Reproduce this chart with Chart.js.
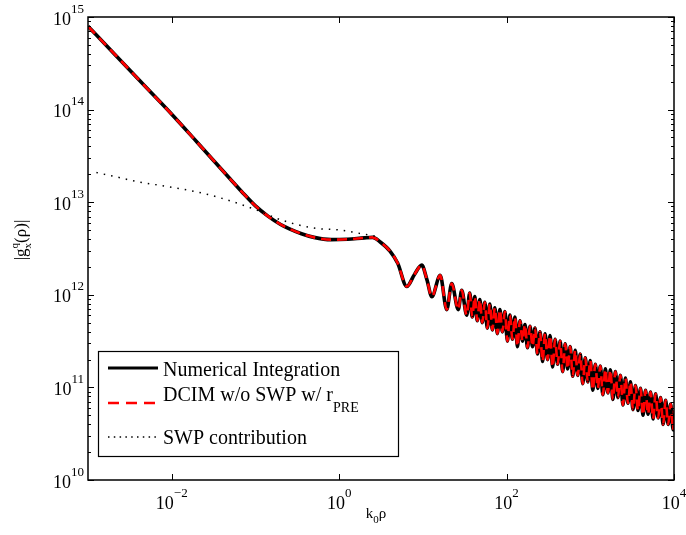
<!DOCTYPE html>
<html>
<head>
<meta charset="utf-8">
<style>
  html, body { margin: 0; padding: 0; background: #fff; }
  canvas { display: block; }
</style>
<script src="https://cdn.jsdelivr.net/npm/chart.js@4.4.0/dist/chart.umd.min.js"></script>
</head>
<body>
<canvas id="chart" width="686" height="535"></canvas>
<script>
// values (k0*rho, |g|)
const xNum = [0.001, 0.002, 0.005, 0.01, 0.02, 0.05, 0.0708, 0.1, 0.141, 0.2, 0.251, 0.355, 0.5, 0.8, 1.26, 2.0, 2.51, 3.09, 4.07, 5.01, 6.43, 7.94, 9.7, 11.2, 12.8, 16.1, 19.3, 22.1, 26.5, 29.1, 33.4,
  36.3, 38.9, 41.7, 44.7, 47.9, 51.3, 55.0, 58.9, 63.1, 67.6, 72.4, 77.6, 83.2, 89.1, 95.5, 102.3, 109.6, 117.5, 125.9, 134.9,
  144.5, 154.9, 166.0, 177.8, 190.5, 204.2, 218.8, 234.4, 251.2, 269.2, 288.4, 309.0, 331.1, 354.8, 380.2, 407.4, 436.5, 467.7, 501.2, 537.0,
  575.4, 616.6, 660.7, 707.9, 758.6, 812.8, 871.0, 933.3, 1000, 1072, 1148, 1230, 1318, 1413, 1514, 1622, 1738, 1862, 1995, 2138,
  2291, 2455, 2630, 2818, 3020, 3236, 3467, 3715, 3981, 4266, 4571, 4898, 5248, 5623, 6026, 6457, 6918, 7413, 7943, 8511, 9120, 9772, 10000];
const yNum = [7.94e14, 4.12e14, 1.72e14, 8.91e13, 4.47e13, 1.78e13, 1.26e13, 9.12e12, 7.08e12, 5.75e12, 5.19e12, 4.57e12, 4.17e12, 3.94e12, 3.98e12, 4.12e12, 4.17e12, 3.72e12, 2.95e12, 2.19e12, 1.23e12, 1.66e12, 2.09e12, 1.45e12, 9.55e11, 1.62e12, 6.92e11, 1.32e12, 6.92e11, 1.12e12, 6.03e11,
  1.047e12, 5.754e11, 9.550e11, 5.248e11, 8.913e11, 5.012e11, 8.318e11, 4.365e11, 7.943e11, 4.169e11, 7.244e11, 3.802e11, 6.918e11, 3.981e11, 6.607e11, 3.162e11, 6.026e11, 3.311e11, 5.754e11, 2.754e11,
  5.248e11, 3.162e11, 4.786e11, 2.692e11, 4.571e11, 2.754e11, 4.365e11, 2.291e11, 3.981e11, 1.905e11, 3.802e11, 1.995e11, 3.631e11, 1.660e11, 3.311e11, 1.778e11, 3.162e11, 1.479e11, 2.951e11, 1.585e11,
  2.754e11, 1.318e11, 2.512e11, 1.349e11, 2.291e11, 1.096e11, 2.089e11, 1.148e11, 1.950e11, 9.333e10, 1.778e11, 9.772e10, 1.698e11, 8.318e10, 1.585e11, 8.710e10, 1.549e11, 7.413e10, 1.479e11, 7.762e10,
  1.349e11, 6.457e10, 1.259e11, 6.761e10, 1.148e11, 5.754e10, 1.047e11, 5.623e10, 9.772e10, 5.012e10, 9.333e10, 5.129e10, 8.913e10, 4.571e10, 8.511e10, 4.677e10, 7.762e10, 3.981e10, 7.244e10, 3.981e10, 6.607e10, 3.467e10, 5.623e10];
// DCIM curve sits on top of the numerical one
const xDcim = xNum;
const yDcim = yNum;
const xSwp = [0.00126, 0.002, 0.004, 0.01, 0.02, 0.04, 0.1, 0.2, 0.5, 1.0, 1.6, 2.8];
const ySwp = [2.09e13, 1.91e13, 1.66e13, 1.45e13, 1.29e13, 1.10e13, 8.32e12, 6.46e12, 5.25e12, 5.01e12, 4.68e12, 4.27e12];

const xTicks = [1e-2, 1e0, 1e2, 1e4];
const xTickExp = ['\u22122', '0', '2', '4'];
const yTicks = [1e10, 1e11, 1e12, 1e13, 1e14, 1e15];
const yTickExp = ['10', '11', '12', '13', '14', '15'];
const seriesNames = ['Numerical Integration', 'DCIM w/o SWP w/ r', 'SWP contribution'];

const SERIF = '"Liberation Serif", "Times New Roman", serif';

function pts(xs, ys) {
  return xs.map((x, i) => ({ x: x, y: ys[i] }));
}

// draws "10" with a raised exponent, left edge at x
function drawPow(ctx, x, y, exp) {
  ctx.font = '18px ' + SERIF;
  const w1 = ctx.measureText('10').width;
  ctx.fillText('10', x, y);
  ctx.font = '13px ' + SERIF;
  ctx.fillText(exp, x + w1, y - 12);
}
function powWidth(ctx, exp) {
  ctx.font = '18px ' + SERIF;
  const w1 = ctx.measureText('10').width;
  ctx.font = '13px ' + SERIF;
  return w1 + ctx.measureText(exp).width;
}

const decor = {
  id: 'decor',
  afterDatasetsDraw(chart) {
    const ctx = chart.ctx;
    const a = chart.chartArea;
    const xs = chart.scales.x, ys = chart.scales.y;
    ctx.save();
    ctx.strokeStyle = '#000';
    ctx.fillStyle = '#000';
    ctx.textAlign = 'left';
    ctx.textBaseline = 'alphabetic';

    // ticks, pointing inward on all four sides
    ctx.lineWidth = 1;
    ctx.beginPath();
    xTicks.forEach(v => {
      const px = Math.round(xs.getPixelForValue(v)) + 0.5;
      ctx.moveTo(px, a.bottom); ctx.lineTo(px, a.bottom - 6);
      ctx.moveTo(px, a.top); ctx.lineTo(px, a.top + 6);
    });
    yTicks.forEach((v, i) => {
      const py = Math.round(ys.getPixelForValue(v)) + 0.5;
      ctx.moveTo(a.left, py); ctx.lineTo(a.left + 6, py);
      ctx.moveTo(a.right, py); ctx.lineTo(a.right - 6, py);
      if (i < yTicks.length - 1) {
        for (let m = 2; m <= 9; m++) {
          const pm = Math.round(ys.getPixelForValue(v * m)) + 0.5;
          ctx.moveTo(a.left, pm); ctx.lineTo(a.left + 3, pm);
          ctx.moveTo(a.right, pm); ctx.lineTo(a.right - 3, pm);
        }
      }
    });
    ctx.stroke();

    // frame
    ctx.lineWidth = 1.5;
    ctx.strokeRect(a.left, a.top, a.right - a.left, a.bottom - a.top);

    // tick labels
    xTicks.forEach((v, i) => {
      const px = xs.getPixelForValue(v);
      const w = powWidth(ctx, xTickExp[i]);
      drawPow(ctx, px - w / 2, a.bottom + 29, xTickExp[i]);
    });
    yTicks.forEach((v, i) => {
      const py = ys.getPixelForValue(v);
      const w = powWidth(ctx, yTickExp[i]);
      drawPow(ctx, 84 - w, py + 7.5, yTickExp[i]);
    });

    // x title: k0 rho
    ctx.font = '15px ' + SERIF;
    const wk = ctx.measureText('k').width;
    const wr = ctx.measureText('\u03c1').width;
    ctx.font = '11px ' + SERIF;
    const w0 = ctx.measureText('0').width;
    let tx = 376 - (wk + w0 + wr) / 2;
    ctx.font = '15px ' + SERIF;
    ctx.fillText('k', tx, 518);
    ctx.font = '11px ' + SERIF;
    ctx.fillText('0', tx + wk, 523);
    ctx.font = '15px ' + SERIF;
    ctx.fillText('\u03c1', tx + wk + w0, 518);

    // y title: |g_x^q(rho)|
    ctx.save();
    ctx.translate(26, 240);
    ctx.rotate(-Math.PI / 2);
    ctx.font = '17px ' + SERIF;
    const wa = ctx.measureText('|g').width;
    const wb = ctx.measureText('(\u03c1)|').width;
    ctx.font = '11px ' + SERIF;
    const ws = Math.max(ctx.measureText('x').width, ctx.measureText('q').width);
    let ty = -(wa + ws + wb) / 2;
    ctx.font = '17px ' + SERIF;
    ctx.fillText('|g', ty, 0);
    ctx.font = '11px ' + SERIF;
    ctx.fillText('q', ty + wa, -8);
    ctx.fillText('x', ty + wa, 5);
    ctx.font = '17px ' + SERIF;
    ctx.fillText('(\u03c1)|', ty + wa + ws, 0);
    ctx.restore();

    // legend box
    ctx.fillStyle = '#fff';
    ctx.fillRect(98, 351, 300, 105);
    ctx.lineWidth = 1.2;
    ctx.strokeRect(98.5, 351.5, 300, 105);
    ctx.fillStyle = '#000';

    ctx.lineWidth = 3;
    ctx.beginPath(); ctx.moveTo(108, 368); ctx.lineTo(158, 368); ctx.stroke();
    ctx.strokeStyle = '#ff0000';
    ctx.lineWidth = 2.6;
    ctx.setLineDash([11, 7]);
    ctx.beginPath(); ctx.moveTo(108, 403); ctx.lineTo(158, 403); ctx.stroke();
    ctx.strokeStyle = '#000';
    ctx.lineWidth = 1.5;
    ctx.setLineDash([1.5, 4.3]);
    ctx.beginPath(); ctx.moveTo(108, 437); ctx.lineTo(158, 437); ctx.stroke();
    ctx.setLineDash([]);

    ctx.font = '20px ' + SERIF;
    ctx.fillText(seriesNames[0], 163, 376);
    ctx.fillText(seriesNames[1], 163, 401);
    const wd = ctx.measureText(seriesNames[1]).width;
    ctx.font = '14px ' + SERIF;
    ctx.fillText('PRE', 163 + wd, 412);
    ctx.font = '20px ' + SERIF;
    ctx.fillText(seriesNames[2], 163, 444);

    ctx.restore();
  }
};

new Chart(document.getElementById('chart'), {
  type: 'line',
  data: {
    datasets: [{
      label: seriesNames[0],
      data: pts(xNum, yNum),
      borderColor: '#000000',
      borderWidth: 3.6,
      borderJoinStyle: 'round',
      order: 3
    }, {
      label: seriesNames[1],
      data: pts(xDcim, yDcim),
      borderColor: '#ff0000',
      borderWidth: 2.6,
      borderDash: [10, 6],
      order: 2
    }, {
      label: seriesNames[2],
      data: pts(xSwp, ySwp),
      borderColor: '#000000',
      borderWidth: 1.5,
      borderDash: [1.5, 6],
      order: 1
    }]
  },
  options: {
    responsive: false,
    animation: false,
    devicePixelRatio: 1,
    layout: { padding: { left: 88, right: 12, top: 17, bottom: 55 } },
    elements: {
      point: { radius: 0 },
      line: { cubicInterpolationMode: 'monotone', fill: false }
    },
    plugins: { legend: { display: false }, tooltip: { enabled: false } },
    scales: {
      x: { type: 'logarithmic', min: 1e-3, max: 1e4, display: false },
      y: { type: 'logarithmic', min: 1e10, max: 1e15, display: false }
    }
  },
  plugins: [decor]
});
</script>
</body>
</html>
